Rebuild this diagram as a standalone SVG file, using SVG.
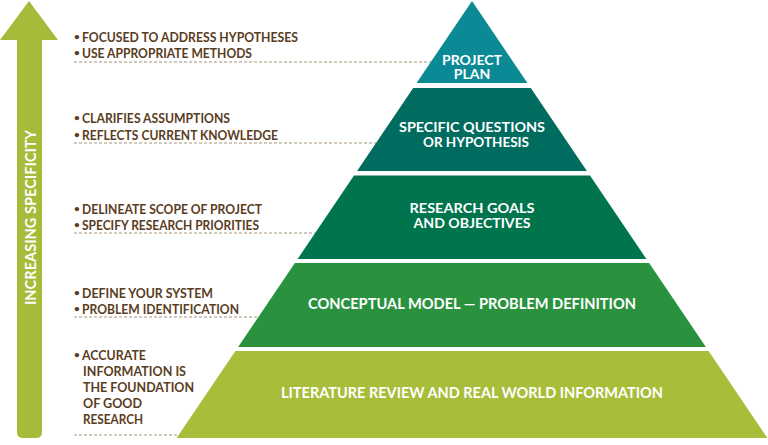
<svg xmlns="http://www.w3.org/2000/svg" width="768" height="445" viewBox="0 0 768 445">
<style>
.note{font-family:Lato,"Open Sans","Liberation Sans",sans-serif;font-size:13px;font-weight:700;fill:#5a3c1e}
.dot{font-family:Lato,"Open Sans","Liberation Sans",sans-serif;font-size:10px;font-weight:700;fill:#5a3c1e}
.lbl{font-family:Lato,"Open Sans","Liberation Sans",sans-serif;font-size:14px;font-weight:700;fill:#ffffff;text-anchor:middle}
.big{font-size:15px}
.dash{stroke:#a8927a;stroke-width:1;stroke-dasharray:3 2;fill:none}
</style>
<rect width="768" height="445" fill="#ffffff"/>
<g id="arrow">
<path d="M29,1 L58,40 L42,40 L42,432 Q42,438 36,438 L23,438 Q17,438 17,432 L17,40 L0,40 Z" fill="#a6bb3a"/>
<text transform="translate(36,305) rotate(-90)" font-family="Lato,'Open Sans','Liberation Sans',sans-serif" font-size="15" font-weight="700" fill="#ffffff" textLength="175" lengthAdjust="spacingAndGlyphs">INCREASING SPECIFICITY</text>
</g>
<g id="connectors">
<line class="dash" x1="74" y1="62" x2="431" y2="62"/>
<line class="dash" x1="74" y1="143" x2="376" y2="143"/>
<line class="dash" x1="74" y1="233" x2="315" y2="233"/>
<line class="dash" x1="74" y1="317" x2="258" y2="317"/>
<line class="dash" x1="74" y1="435" x2="179" y2="435"/>
</g>
<g id="layer1">
<polygon points="472,1 527.4,83 416.6,83" fill="#0b8a96"/>
<text class="lbl" x="472" y="65" textLength="60" lengthAdjust="spacingAndGlyphs">PROJECT</text>
<text class="lbl" x="472" y="79">PLAN</text>
</g>
<g id="layer2">
<polygon points="413.2,88 530.8,88 586.9,171 357.1,171" fill="#006b5f"/>
<text class="lbl" x="472" y="132" textLength="146" lengthAdjust="spacingAndGlyphs">SPECIFIC QUESTIONS</text>
<text class="lbl" x="476" y="147" textLength="106" lengthAdjust="spacingAndGlyphs">OR HYPOTHESIS</text>
</g>
<g id="layer3">
<polygon points="354,175.5 590,175.5 646.4,259 297.6,259" fill="#00744c"/>
<text class="lbl" x="472" y="213" textLength="125" lengthAdjust="spacingAndGlyphs">RESEARCH GOALS</text>
<text class="lbl" x="472" y="228" textLength="117" lengthAdjust="spacingAndGlyphs">AND OBJECTIVES</text>
</g>
<g id="layer4">
<polygon points="294.9,263 649.1,263 705.9,347 238.1,347" fill="#2a923f"/>
<text class="lbl big" x="472" y="309" textLength="328" lengthAdjust="spacingAndGlyphs">CONCEPTUAL MODEL — PROBLEM DEFINITION</text>
</g>
<g id="layer5">
<polygon points="235.4,351 708.6,351 767.4,438 176.6,438" fill="#a8bd39"/>
<text class="lbl big" x="472" y="398" textLength="382" lengthAdjust="spacingAndGlyphs">LITERATURE REVIEW AND REAL WORLD INFORMATION</text>
</g>
<g id="notes1">
<text class="dot" x="74" y="40">•</text><text class="note" x="82" y="42" textLength="216" lengthAdjust="spacingAndGlyphs">FOCUSED TO ADDRESS HYPOTHESES</text>
<text class="dot" x="74" y="56">•</text><text class="note" x="82" y="58" textLength="170" lengthAdjust="spacingAndGlyphs">USE APPROPRIATE METHODS</text>
</g>
<g id="notes2">
<text class="dot" x="74" y="121">•</text><text class="note" x="82" y="123" textLength="148" lengthAdjust="spacingAndGlyphs">CLARIFIES ASSUMPTIONS</text>
<text class="dot" x="74" y="138">•</text><text class="note" x="82" y="140" textLength="196" lengthAdjust="spacingAndGlyphs">REFLECTS CURRENT KNOWLEDGE</text>
</g>
<g id="notes3">
<text class="dot" x="74" y="212">•</text><text class="note" x="82" y="214" textLength="180" lengthAdjust="spacingAndGlyphs">DELINEATE SCOPE OF PROJECT</text>
<text class="dot" x="74" y="228">•</text><text class="note" x="82" y="230" textLength="177" lengthAdjust="spacingAndGlyphs">SPECIFY RESEARCH PRIORITIES</text>
</g>
<g id="notes4">
<text class="dot" x="74" y="296">•</text><text class="note" x="82" y="298" textLength="131" lengthAdjust="spacingAndGlyphs">DEFINE YOUR SYSTEM</text>
<text class="dot" x="74" y="312">•</text><text class="note" x="82" y="314" textLength="157" lengthAdjust="spacingAndGlyphs">PROBLEM IDENTIFICATION</text>
</g>
<g id="notes5">
<text class="dot" x="74" y="358">•</text><text class="note" x="82" y="360" textLength="64" lengthAdjust="spacingAndGlyphs">ACCURATE</text>
<text class="note" x="83" y="376" textLength="103" lengthAdjust="spacingAndGlyphs">INFORMATION IS</text>
<text class="note" x="83" y="392" textLength="111" lengthAdjust="spacingAndGlyphs">THE FOUNDATION</text>
<text class="note" x="83" y="408" textLength="59" lengthAdjust="spacingAndGlyphs">OF GOOD</text>
<text class="note" x="83" y="424" textLength="60" lengthAdjust="spacingAndGlyphs">RESEARCH</text>
</g>
</svg>
